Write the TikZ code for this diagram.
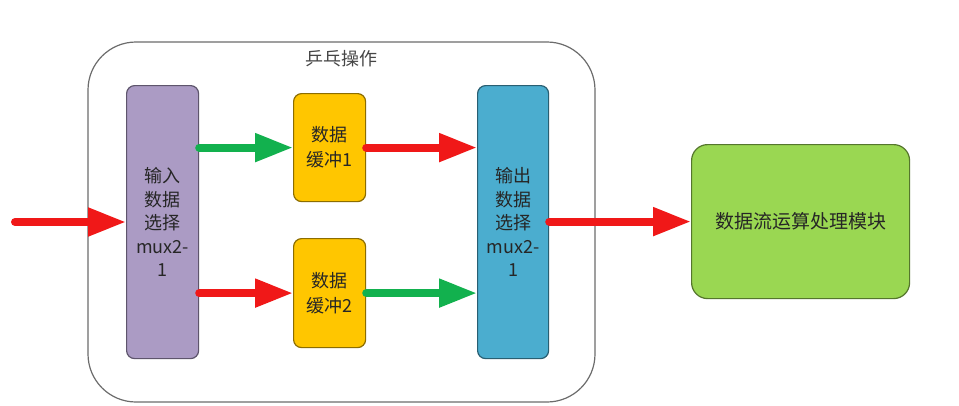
\documentclass[tikz,border=0pt]{standalone}
\usepackage{fontspec}
\setmainfont{Noto Sans CJK SC}
\usetikzlibrary{arrows.meta}
\definecolor{muxin}{HTML}{AB9BC4}
\definecolor{muxout}{HTML}{4BADCF}
\definecolor{buf}{HTML}{FFC600}
\definecolor{proc}{HTML}{9AD752}
\definecolor{redarr}{HTML}{F01818}
\definecolor{greenarr}{HTML}{12B14E}
\definecolor{txt}{HTML}{262626}
\tikzset{
  blk/.style={draw=#1!55!black, line width=1.2pt, rounded corners=8pt, anchor=north west, inner sep=0pt, text=txt, align=center, font=\fontsize{18}{23.5}\selectfont},
  bigarrow/.style={line width=8pt, draw=#1, line cap=round, -{Triangle[length=38pt,width=27pt]}},
}
\begin{document}
\begin{tikzpicture}[x=1pt,y=-1pt]
\useasboundingbox (0,0) rectangle (959,405);
\fill[white] (0,0) rectangle (959,405);
% outer ping-pong frame
\draw[draw=gray!85!black, line width=1.2pt, rounded corners=48pt] (88,42) rectangle (595,402);
\node[text=gray!55!black, font=\fontsize{18}{20}\selectfont] (title) at (341,59) {乒乓操作};
% blocks
\node[blk=muxin, fill=muxin, minimum width=72pt, minimum height=273pt] (min) at (126,85) {输入\\数据\\选择\\mux2-\\1};
\node[blk=buf, fill=buf, minimum width=72pt, minimum height=108pt, font=\fontsize{18}{25}\selectfont] (b1) at (293,93) {数据\\缓冲1};
\node[blk=buf, fill=buf, minimum width=72pt, minimum height=109pt, font=\fontsize{18}{25}\selectfont] (b2) at (293,238) {数据\\缓冲2};
\node[blk=muxout, fill=muxout, minimum width=71pt, minimum height=273pt] (mout) at (477,85) {输出\\数据\\选择\\mux2-\\1};
\node[blk=proc, fill=proc, minimum width=218pt, minimum height=154pt, rounded corners=16pt, font=\fontsize{19}{22}\selectfont] (pr) at (691,144) {数据流运算处理模块};
% arrows
\coordinate (src) at (15,222);
\draw[bigarrow=redarr] (src) -- (src -| min.west);
\draw[bigarrow=greenarr] (min.east |- b1.west) -- (b1.west);
\draw[bigarrow=redarr] (min.east |- b2.west) -- (b2.west);
\draw[bigarrow=redarr] (b1.east) -- (b1.east -| mout.west);
\draw[bigarrow=greenarr] (b2.east) -- (b2.east -| mout.west);
\draw[bigarrow=redarr] (mout.east |- pr.west) -- (pr.west);
\end{tikzpicture}
\end{document}
